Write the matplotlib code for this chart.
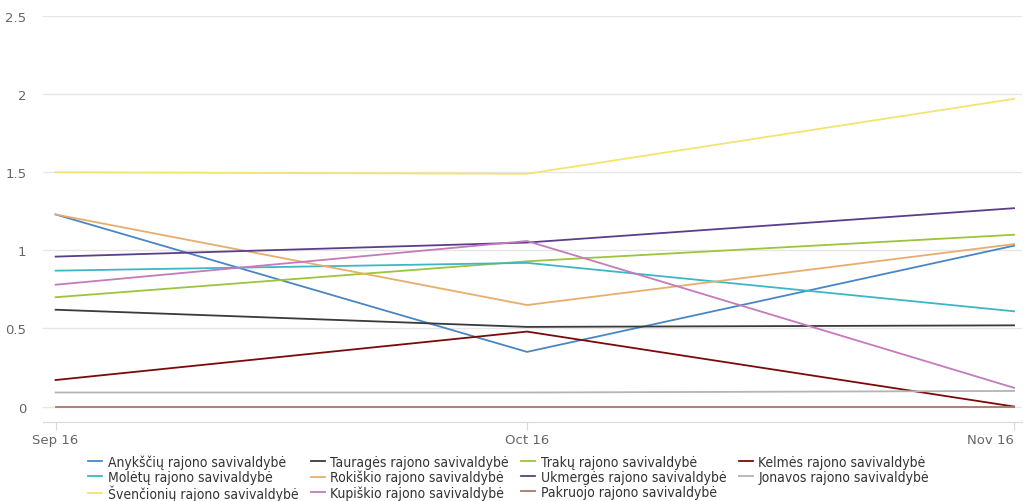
import pandas as pd
import numpy as np
import matplotlib
matplotlib.use('Agg')
import matplotlib.pyplot as plt
import matplotlib.dates as mdates

# Monthly values per municipality
months = pd.to_datetime(['2016-09-01', '2016-10-01', '2016-11-01'])

anyksciu = [1.23, 0.35, 1.03]
taurages = [0.62, 0.51, 0.52]
traku = [0.70, 0.93, 1.10]
kelmes = [0.17, 0.48, 0.0]
moletu = [0.87, 0.92, 0.61]
rokiskio = [1.23, 0.65, 1.04]
ukmerges = [0.96, 1.05, 1.27]
jonavos = [0.09, 0.09, 0.10]
svencioniu = [1.50, 1.49, 1.97]
kupiskio = [0.78, 1.06, 0.12]
pakruojo = [0.0, 0.0, 0.0]

names = ['Anykščių rajono savivaldybė', 'Tauragės rajono savivaldybė',
         'Trakų rajono savivaldybė', 'Kelmės rajono savivaldybė',
         'Molėtų rajono savivaldybė', 'Rokiškio rajono savivaldybė',
         'Ukmergės rajono savivaldybė', 'Jonavos rajono savivaldybė',
         'Švenčionių rajono savivaldybė', 'Kupiškio rajono savivaldybė',
         'Pakruojo rajono savivaldybė']
series = [anyksciu, taurages, traku, kelmes, moletu, rokiskio,
          ukmerges, jonavos, svencioniu, kupiskio, pakruojo]
colors = ['#4a86c2', '#3a3a3a', '#9cc43c', '#7a0a0a', '#3db6c6', '#e6ae6c',
          '#5a3e8a', '#b4b4b4', '#f2e470', '#c47abc', '#a8786a']

plt.rcParams['font.family'] = ['DejaVu Sans']

fig = plt.figure(figsize=(10.25, 5.02), dpi=100)
ax = fig.add_axes([0.042, 0.157, 0.955, 0.809])

lines = []
for vals, name, c in zip(series, names, colors):
    ln, = ax.plot(months, vals, color=c, lw=1.3, label=name)
    lines.append(ln)

ax.set_ylim(-0.1, 2.5)
ax.set_xlim(months[0] - pd.Timedelta(days=0.8), months[-1] + pd.Timedelta(days=0.5))
ax.set_yticks([0, 0.5, 1, 1.5, 2, 2.5])
ax.set_yticklabels(['0', '0.5', '1', '1.5', '2', '2.5'])
ax.set_xticks(months)
ax.xaxis.set_major_formatter(mdates.DateFormatter('%b %y'))
ax.grid(axis='y', color='#e6e6e6', lw=1)
ax.set_axisbelow(True)
for s in ['top', 'right', 'left']:
    ax.spines[s].set_visible(False)
ax.spines['bottom'].set_color('#d8d8d8')
ax.tick_params(axis='y', length=0, labelsize=9.5, labelcolor='#666666', pad=12)
ax.tick_params(axis='x', length=6, color='#d8d8d8', labelsize=9.5, labelcolor='#666666', pad=2)
ax.get_xticklabels()[-1].set_ha('right')

# legend reads row by row
order = [0, 4, 8, 1, 5, 9, 2, 6, 10, 3, 7]
ax.legend([lines[i] for i in order], [names[i] for i in order],
          loc='upper left', bbox_to_anchor=(0.046, -0.08), ncol=4, frameon=False,
          prop={'size': 10, 'stretch': 'condensed'},
          handlelength=1.0, handletextpad=0.4, columnspacing=0.9,
          labelspacing=0.05, borderaxespad=0, borderpad=0, labelcolor='#333333')

fig.savefig('out.png', dpi=100)
